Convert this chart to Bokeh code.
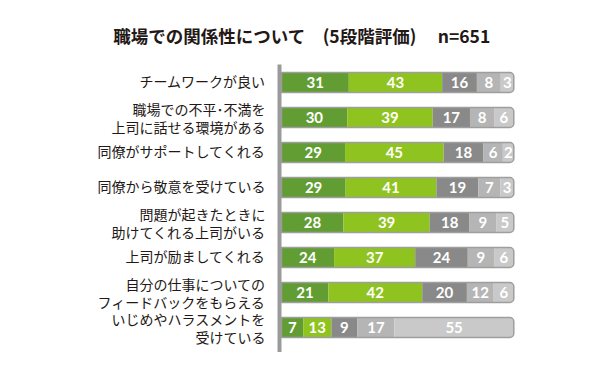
from bokeh.plotting import figure
from bokeh.models import Range1d, ColumnDataSource, Label
from bokeh.core.properties import value
from bokeh.embed import file_html
from bokeh.resources import INLINE

# ---- data ----
title_text = "職場での関係性について　(5段階評価)　 n=651"
categories = [
    "チームワークが良い",
    "職場での不平･不満を\n上司に話せる環境がある",
    "同僚がサポートしてくれる",
    "同僚から敬意を受けている",
    "問題が起きたときに\n助けてくれる上司がいる",
    "上司が励ましてくれる",
    "自分の仕事についての\nフィードバックをもらえる",
    "いじめやハラスメントを\n受けている",
]
s1 = [31, 30, 29, 29, 28, 24, 21, 7]
s2 = [43, 39, 45, 41, 39, 37, 42, 13]
s3 = [16, 17, 18, 19, 18, 24, 20, 9]
s4 = [8, 8, 6, 7, 9, 9, 12, 17]
s5 = [3, 6, 2, 3, 5, 6, 6, 55]
colors = ["#629D33", "#8FC31F", "#898989", "#B5B5B5", "#C9C9C9"]

# ---- layout helpers ----
W, H = 594, 352
PX = 2.323          # px per percent
X0 = 281            # bar left in px
ROW = 35            # px per row
Y0 = 82             # first row center px
PAD = 3             # as in the reference, single-digit segments are widened so their labels fit

p = figure(width=W, height=H, output_backend="svg", toolbar_location=None,
           x_range=Range1d(-X0 / PX, (W - X0) / PX),
           y_range=Range1d((H - Y0) / ROW, -Y0 / ROW),
           min_border=0, outline_line_color=None)
p.axis.visible = False
p.grid.visible = False
p.background_fill_color = "white"
p.border_fill_color = "white"

series = [s1, s2, s3, s4, s5]
left, right, ys, cols, vals, xc = [], [], [], [], [], []
lleft, lright, lys, lcols = [], [], [], []
for i in range(len(categories)):
    row = [s[i] for s in series]
    disp = [v + PAD if v < 10 else v for v in row]
    tot = sum(disp)
    acc = 0.0
    for j, v in enumerate(row):
        w = disp[j] / tot * 100
        if j < 4:
            left.append(acc); right.append(acc + w); ys.append(i); cols.append(colors[j])
        else:
            lleft.append(acc); lright.append(acc + w); lys.append(i); lcols.append(colors[j])
        vals.append(str(v)); xc.append(acc + w / 2)
        acc += w

bh = 20 / ROW
src = ColumnDataSource(dict(left=left, right=right, y=ys, color=cols))
p.hbar(y="y", left="left", right="right", height=bh, fill_color="color",
       line_color=None, source=src)
src2 = ColumnDataSource(dict(left=lleft, right=lright, y=lys, color=lcols))
p.hbar(y="y", left="left", right="right", height=bh, fill_color="color",
       line_color=None, border_radius=(0, 4, 4, 0), source=src2)
# outline
p.hbar(y=list(range(len(categories))), left=0, right=100, height=bh,
       fill_color=None, line_color="#9E9E9E", line_width=1.5,
       border_radius=(0, 4, 4, 0))

# value labels
ysv = [i for i in range(len(categories)) for _ in range(5)]
p.text(x=xc, y=ysv, text=vals, text_color="white", text_font=value("Lato"),
       text_font_style="bold", text_font_size="15px", text_align="center",
       text_baseline="middle")

# axis line
p.segment(x0=-2 / PX, y0=(64 - Y0) / ROW, x1=-2 / PX, y1=(352 - Y0) / ROW,
          line_color="#9A9A9A", line_width=4)

# category labels
label_y = [i - (0 if "\n" in c else 2 / ROW) for i, c in enumerate(categories)]
p.text(x=[-16 / PX] * len(categories), y=label_y,
       text=categories, text_color="#231815", text_font=value("Noto Sans CJK JP"),
       text_font_size="14px", text_align="right", text_baseline="middle",
       text_line_height=0.9)

# title
p.add_layout(Label(x=(301.5 - X0) / PX, y=(35 - Y0) / ROW, text=title_text,
                   text_font="Noto Sans CJK JP", text_font_style="bold",
                   text_font_size="17.5px", text_color="#231815",
                   text_align="center", text_baseline="middle"))

open("out.html", "w").write(file_html(p, INLINE))
